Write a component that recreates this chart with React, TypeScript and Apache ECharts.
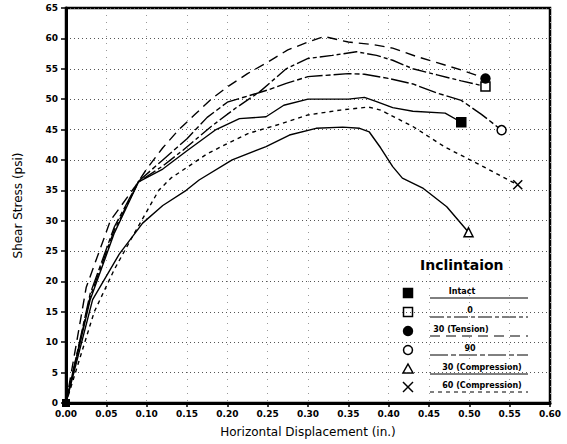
import React, { useEffect, useRef } from "react";
import * as echarts from "echarts";

const yTicks = [0, 5, 10, 15, 20, 25, 30, 35, 40, 45, 50, 55, 60, 65];
const xTicks = [0, 0.05, 0.1, 0.15, 0.2, 0.25, 0.3, 0.35, 0.4, 0.45, 0.5, 0.55, 0.6];

const intact: number[][] = [[0,0],[0.03,17],[0.06,28],[0.09,36.4],[0.12,38.5],[0.15,41.5],[0.186,45],[0.215,46.8],[0.248,47.1],[0.27,49],[0.3,50],[0.35,50],[0.37,50.3],[0.385,49.6],[0.405,48.6],[0.43,48],[0.47,47.7],[0.49,46.2]];
const zero: number[][] = [[0,0],[0.03,17.5],[0.06,28.5],[0.09,36.4],[0.12,39],[0.145,41.6],[0.18,45.5],[0.21,48.5],[0.24,51.2],[0.273,55],[0.3,56.7],[0.33,57.2],[0.36,57.8],[0.385,57.2],[0.405,56.4],[0.43,55],[0.46,54],[0.49,53],[0.52,52.1]];
const tension30: number[][] = [[0,0],[0.025,19],[0.055,30],[0.085,35.5],[0.1,38.5],[0.12,42],[0.14,45],[0.16,47.5],[0.18,50],[0.2,52],[0.225,54.2],[0.25,56.1],[0.275,58.1],[0.3,59.4],[0.32,60.3],[0.35,59.4],[0.38,59],[0.405,58.4],[0.435,57],[0.46,56],[0.49,54.8],[0.52,53.4]];
const ninety: number[][] = [[0,0],[0.03,18],[0.06,29],[0.09,36.5],[0.12,40],[0.15,43.5],[0.175,47],[0.2,49.5],[0.25,51.5],[0.273,52.6],[0.3,53.7],[0.35,54.2],[0.37,54.1],[0.4,53.4],[0.43,52.5],[0.46,51],[0.49,49.8],[0.515,47.5],[0.54,44.9]];
const comp30: number[][] = [[0,0],[0.033,17],[0.066,24.5],[0.095,29.6],[0.12,32.5],[0.149,35],[0.165,36.7],[0.206,40],[0.248,42.2],[0.277,44.1],[0.31,45.2],[0.343,45.4],[0.364,45.2],[0.376,44.6],[0.39,42],[0.405,38.9],[0.417,37],[0.443,35.3],[0.472,32.3],[0.499,28.1]];
const comp60: number[][] = [[0,0],[0.035,15],[0.06,22],[0.085,28],[0.1,31.5],[0.115,35],[0.13,37],[0.157,39.4],[0.175,41],[0.2,42.7],[0.227,44.4],[0.268,46],[0.3,47.4],[0.34,48.2],[0.375,48.7],[0.39,48.2],[0.43,45.5],[0.47,42.1],[0.51,39.4],[0.56,35.9]];

const seriesNames = ["Intact", "0", "30 (Tension)", "90", "30 (Compression)", "60 (Compression)"];

const FONT = "DejaVu Sans";
const XPATH = "path://M0,0L10,10M10,0L0,10";

export default function App() {
  const ref = useRef<HTMLDivElement>(null);
  useEffect(() => {
    document.body.style.margin = "0";
    const chart = echarts.init(ref.current!, undefined, { renderer: "svg" });
    const defs = [
      { name: seriesNames[0], data: intact, dash: "solid" as any, sym: "rect", fill: "#000", size: 9 },
      { name: seriesNames[1], data: zero, dash: [14, 3, 4, 3], sym: "rect", fill: "#fff", size: 9 },
      { name: seriesNames[2], data: tension30, dash: [10, 6], sym: "circle", fill: "#000", size: 9 },
      { name: seriesNames[3], data: ninety, dash: [18, 3, 5, 3], sym: "circle", fill: "#fff", size: 9 },
      { name: seriesNames[4], data: comp30, dash: "solid" as any, sym: "triangle", fill: "#fff", size: 9 },
      { name: seriesNames[5], data: comp60, dash: [4, 4], sym: XPATH, fill: "none", size: 9 },
    ];
    const series: any[] = defs.map((d) => ({
      type: "line",
      name: d.name,
      showSymbol: true,
      symbol: "none",
      lineStyle: { color: "#000", width: 1.4, type: d.dash },
      data: d.data.map((p, i) => {
        if (i === d.data.length - 1) {
          return {
            value: p,
            symbol: d.sym,
            symbolSize: d.size,
            itemStyle: { color: d.fill, borderColor: "#000", borderWidth: 1.5 },
          };
        }
        if (i === 0) {
          return { value: p, symbol: "rect", symbolSize: 8, itemStyle: { color: "#000" } };
        }
        return { value: p, symbol: "none" };
      }),
      z: 3,
    }));

    const rowsY = [293, 312, 331, 350, 369, 387];
    const labelX = [462, 470, 461, 470, 482, 482];
    const graphics: any[] = [
      {
        type: "text",
        left: 420,
        top: 258,
        style: { text: "Inclintaion", font: `bold 14px ${FONT}`, fill: "#000" },
      },
    ];
    defs.forEach((d, i) => {
      const y = rowsY[i];
      const mx = 408;
      if (d.sym === "rect") {
        graphics.push({ type: "rect", shape: { x: mx - 4.5, y: y - 4.5, width: 9, height: 9 }, style: { fill: d.fill, stroke: "#000", lineWidth: 1.5 } });
      } else if (d.sym === "circle") {
        graphics.push({ type: "circle", shape: { cx: mx, cy: y, r: 4.5 }, style: { fill: d.fill, stroke: "#000", lineWidth: 1.5 } });
      } else if (d.sym === "triangle") {
        graphics.push({ type: "polygon", shape: { points: [[mx, y - 5], [mx + 5, y + 4], [mx - 5, y + 4]] }, style: { fill: "#fff", stroke: "#000", lineWidth: 1.5 } });
      } else {
        graphics.push({ type: "line", shape: { x1: mx - 5, y1: y - 5, x2: mx + 5, y2: y + 5 }, style: { stroke: "#000", lineWidth: 1.5 } });
        graphics.push({ type: "line", shape: { x1: mx + 5, y1: y - 5, x2: mx - 5, y2: y + 5 }, style: { stroke: "#000", lineWidth: 1.5 } });
      }
      graphics.push({
        type: "text",
        x: labelX[i],
        y: y - 2,
        style: { text: d.name, font: `bold 8px ${FONT}`, fill: "#000", align: "center", verticalAlign: "middle" },
      });
      graphics.push({
        type: "line",
        shape: { x1: 430, y1: y + 5, x2: 528, y2: y + 5 },
        style: { stroke: "#000", lineWidth: 1, lineDash: d.dash === "solid" ? null : d.dash },
      });
    });

    chart.setOption({
      animation: false,
      backgroundColor: "#fff",
      grid: { left: 66, right: 17, top: 8, bottom: 41, show: true, borderColor: "#000", borderWidth: 2.5 },
      xAxis: {
        type: "value",
        min: 0,
        max: 0.6,
        interval: 0.05,
        name: "Horizontal Displacement (in.)",
        nameLocation: "middle",
        nameGap: 23,
        nameTextStyle: { fontFamily: FONT, fontSize: 12, color: "#000" },
        axisLine: { show: true, lineStyle: { color: "#000", width: 3 } },
        axisTick: { show: true, length: 4, lineStyle: { color: "#000", width: 1.5 } },
        axisLabel: { formatter: (v: number) => v.toFixed(2), fontFamily: FONT, fontWeight: "bold", fontSize: 9, color: "#000", margin: 6 },
        splitLine: { show: true, lineStyle: { color: "#999", type: [1, 6], width: 1 } },
      },
      yAxis: {
        type: "value",
        min: 0,
        max: 65,
        interval: 5,
        name: "Shear Stress (psi)",
        nameLocation: "middle",
        nameGap: 42,
        nameTextStyle: { fontFamily: FONT, fontSize: 12, color: "#000" },
        axisLine: { show: true, lineStyle: { color: "#000", width: 3 } },
        axisTick: { show: true, length: 5, lineStyle: { color: "#000", width: 1.5 } },
        axisLabel: { fontFamily: FONT, fontWeight: "bold", fontSize: 9, color: "#000", margin: 8 },
        splitLine: { show: true, lineStyle: { color: "#555", type: [1, 3], width: 1 } },
      },
      graphic: graphics,
      series,
    });
    return () => chart.dispose();
  }, []);
  return <div ref={ref} style={{ width: 567, height: 444 }} />;
}
